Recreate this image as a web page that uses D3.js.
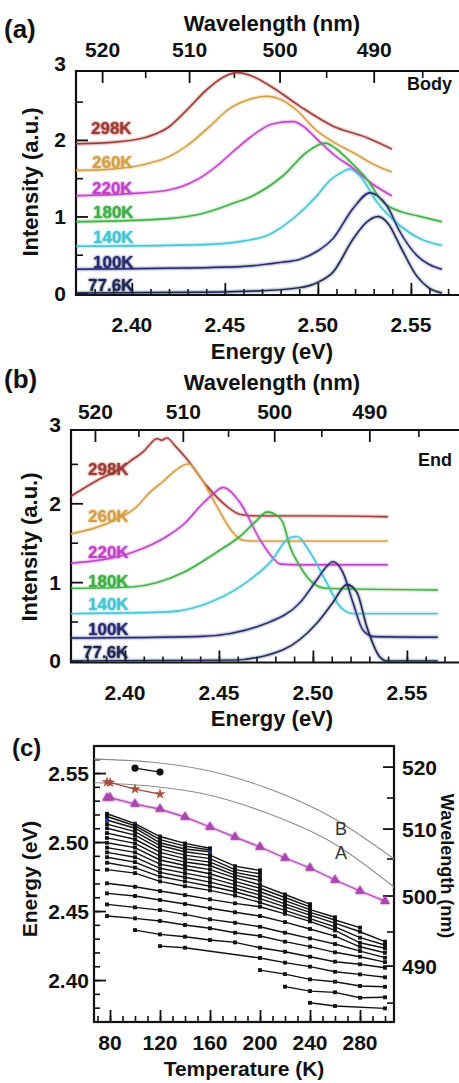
<!DOCTYPE html>
<html><head><meta charset="utf-8">
<script src="https://cdn.jsdelivr.net/npm/d3@7"></script>
<style>
html,body{margin:0;padding:0;background:#fff;}
svg{display:block;font-family:"Liberation Sans",Arial,Helvetica,sans-serif;}
</style></head><body>
<svg id="fig" width="459" height="1083"></svg>
<script>
// ---------------- DATA ----------------
const tempLabels = ["298K","260K","220K","180K","140K","100K","77.6K"];
const tempColors = ["#9e3a34","#d4a047","#c043c6","#3fae45","#45c4d2","#262a6e","#1d2550"];

// (a) Body spectra: [energy eV, intensity a.u.]
const body298 = [[2.3699,1.95],[2.3900,1.97],[2.4070,2.03],[2.4200,2.17],[2.4300,2.40],[2.4400,2.65],[2.4500,2.83],[2.4565,2.88],[2.4640,2.84],[2.4760,2.68],[2.4903,2.44],[2.5081,2.18],[2.5263,2.03],[2.5398,1.88]];
const body260 = [[2.3699,1.60],[2.3900,1.62],[2.4050,1.67],[2.4200,1.78],[2.4300,1.93],[2.4420,2.18],[2.4520,2.40],[2.4620,2.52],[2.4726,2.57],[2.4800,2.53],[2.4880,2.40],[2.4995,2.12],[2.5100,1.95],[2.5200,1.82],[2.5300,1.68],[2.5398,1.58]];
const body220 = [[2.3699,1.27],[2.4000,1.30],[2.4188,1.34],[2.4350,1.48],[2.4457,1.66],[2.4560,1.88],[2.4634,2.03],[2.4758,2.21],[2.4866,2.24],[2.4920,2.18],[2.4995,2.01],[2.5100,1.78],[2.5172,1.66],[2.5296,1.42],[2.5398,1.27]];
const body180 = [[2.3699,0.93],[2.4188,0.97],[2.4366,1.03],[2.4543,1.17],[2.4650,1.27],[2.4812,1.53],[2.4941,1.84],[2.5038,1.96],[2.5100,1.88],[2.5172,1.72],[2.5263,1.49],[2.5350,1.19],[2.5450,1.06],[2.5532,1.01],[2.5667,0.93]];
const body140 = [[2.3699,0.61],[2.4366,0.63],[2.4600,0.68],[2.4726,0.75],[2.4866,0.97],[2.4995,1.27],[2.5064,1.47],[2.5130,1.58],[2.5172,1.62],[2.5230,1.52],[2.5317,1.19],[2.5441,0.88],[2.5548,0.71],[2.5667,0.62]];
const body100 = [[2.3699,0.31],[2.4543,0.34],[2.4800,0.40],[2.4903,0.44],[2.5000,0.55],[2.5081,0.71],[2.5188,1.10],[2.5280,1.31],[2.5320,1.27],[2.5371,1.14],[2.5441,0.80],[2.5532,0.49],[2.5600,0.37],[2.5667,0.31]];
const body776 = [[2.3699,0.00],[2.4400,0.01],[2.4700,0.03],[2.4903,0.07],[2.5000,0.14],[2.5081,0.27],[2.5188,0.70],[2.5260,0.92],[2.5323,1.00],[2.5380,0.90],[2.5441,0.62],[2.5532,0.22],[2.5600,0.06],[2.5667,0.00]];

// (b) End spectra
const end298 = [[2.3713,2.09],[2.3867,2.31],[2.3960,2.42],[2.4043,2.56],[2.4100,2.66],[2.4130,2.74],[2.4170,2.82],[2.4195,2.80],[2.4223,2.83],[2.4270,2.72],[2.4330,2.56],[2.4436,2.22],[2.4543,1.96],[2.4612,1.86],[2.4700,1.84],[2.5000,1.84],[2.5399,1.83]];
const end260 = [[2.3713,1.61],[2.3957,1.80],[2.4060,1.95],[2.4133,2.14],[2.4200,2.27],[2.4255,2.39],[2.4300,2.47],[2.4340,2.50],[2.4399,2.34],[2.4489,1.96],[2.4574,1.63],[2.4628,1.53],[2.4700,1.52],[2.5399,1.52]];
const end220 = [[2.3713,1.24],[2.4043,1.38],[2.4223,1.58],[2.4320,1.75],[2.4399,1.96],[2.4470,2.12],[2.4521,2.20],[2.4612,2.01],[2.4718,1.54],[2.4790,1.30],[2.4824,1.23],[2.4900,1.22],[2.5399,1.22]];
const end180 = [[2.3713,0.92],[2.4043,0.94],[2.4309,1.12],[2.4489,1.38],[2.4612,1.58],[2.4700,1.78],[2.4755,1.89],[2.4800,1.86],[2.4840,1.76],[2.4878,1.45],[2.4931,1.20],[2.5000,0.99],[2.5074,0.92],[2.5665,0.90]];
const end140 = [[2.3713,0.60],[2.4223,0.62],[2.4489,0.78],[2.4665,1.03],[2.4787,1.29],[2.4862,1.54],[2.4915,1.58],[2.4984,1.38],[2.5074,0.99],[2.5144,0.69],[2.5213,0.60],[2.5665,0.60]];
const end100 = [[2.3713,0.29],[2.4399,0.31],[2.4755,0.48],[2.4931,0.74],[2.5021,1.03],[2.5074,1.20],[2.5106,1.26],[2.5160,1.12],[2.5213,0.74],[2.5266,0.39],[2.5319,0.31],[2.5665,0.30]];
const end776 = [[2.3713,0.00],[2.4574,0.01],[2.4840,0.14],[2.5021,0.48],[2.5106,0.74],[2.5181,0.97],[2.5234,0.87],[2.5287,0.43],[2.5356,0.05],[2.5394,0.00],[2.5665,0.00]];

// axis ticks
const intensityTicks = [0,1,2,3];
const intensityMinor = [0.5,1.5,2.5];
const energyTicksAB = [2.40,2.45,2.50,2.55];
const wavelengthTicks = [520,510,500,490];
const wavelengthMinor = [515,505,495,485];
const tempTicks = [80,120,160,200,240,280];
const energyTicksC = [2.40,2.45,2.50,2.55];
const wlTicksC = [520,510,500,490];
const wlMinorC = [515,505,495,485];
// right-axis calibration of panel (c): wavelength label -> energy position
const wlCalibNm = [485,490,495,500,505,510,515,520];
const wlCalibEv = [2.3833,2.4101,2.4348,2.4609,2.4877,2.5094,2.5319,2.5543];

// (c) peak energies vs temperature: [T (K), E (eV)]
const row01 = [[77.6,2.5205],[100,2.5134],[120,2.5040],[140,2.4990],[160,2.4955]];
const row02 = [[77.6,2.5185],[100,2.5118],[120,2.5018],[140,2.4970],[160,2.4942]];
const row03 = [[77.6,2.5160],[100,2.5100],[120,2.4995],[140,2.4950],[160,2.4930]];
const row04 = [[77.6,2.5130],[100,2.5075],[120,2.4975],[140,2.4930],[160,2.4905],[180,2.4825],[200,2.4795]];
const row05 = [[77.6,2.5100],[100,2.5050],[120,2.4950],[140,2.4905],[160,2.4880],[180,2.4800],[200,2.4770]];
const row06 = [[77.6,2.5065],[100,2.5020],[120,2.4925],[140,2.4880],[160,2.4855],[180,2.4780],[200,2.4745]];
const row07 = [[77.6,2.5030],[100,2.4990],[120,2.4898],[140,2.4855],[160,2.4830],[180,2.4760],[200,2.4720]];
const row08 = [[77.6,2.4995],[100,2.4960],[120,2.4870],[140,2.4830],[160,2.4800],[180,2.4740],[200,2.4690],[220,2.4620],[240,2.4550]];
const row09 = [[77.6,2.4960],[100,2.4925],[120,2.4840],[140,2.4805],[160,2.4770],[180,2.4715],[200,2.4665],[220,2.4598],[240,2.4530]];
const row10 = [[77.6,2.4925],[100,2.4890],[120,2.4810],[140,2.4775],[160,2.4740],[180,2.4690],[200,2.4640],[220,2.4575],[240,2.4510],[260,2.4455]];
const row11 = [[77.6,2.4890],[100,2.4855],[120,2.4780],[140,2.4745],[160,2.4710],[180,2.4665],[200,2.4615],[220,2.4552],[240,2.4490],[260,2.4435],[280,2.4380]];
const row12 = [[77.6,2.4850],[100,2.4815],[120,2.4750],[140,2.4715],[160,2.4680],[180,2.4640],[200,2.4590],[220,2.4530],[240,2.4470],[260,2.4412],[280,2.4350],[300,2.4278]];
const row13 = [[77.6,2.4800],[100,2.4775],[120,2.4715],[140,2.4680],[160,2.4650],[180,2.4612],[200,2.4562],[220,2.4505],[240,2.4445],[260,2.4385],[280,2.4307],[300,2.4254]];
const row14 = [[77.6,2.4701],[100,2.4676],[120,2.4645],[140,2.4616],[160,2.4585],[180,2.4556],[200,2.4531],[220,2.4480],[240,2.4425],[260,2.4360],[280,2.4270],[300,2.4230]];
const row15 = [[77.6,2.4628],[100,2.4609],[120,2.4580],[140,2.4551],[160,2.4520],[180,2.4491],[200,2.4464],[220,2.4420],[240,2.4370],[260,2.4318],[280,2.4241],[300,2.4198]];
const row16 = [[77.6,2.4548],[100,2.4527],[120,2.4507],[140,2.4476],[160,2.4440],[180,2.4415],[200,2.4386],[220,2.4343],[240,2.4302],[260,2.4261],[280,2.4210],[300,2.4162]];
const row17 = [[77.6,2.4464],[100,2.4447],[120,2.4428],[140,2.4399],[160,2.4375],[180,2.4343],[200,2.4319],[220,2.4278],[240,2.4242],[260,2.4201],[280,2.4169],[300,2.4130]];
const row18 = [[100,2.4362],[120,2.4331],[140,2.4314],[160,2.4290],[180,2.4273],[200,2.4234],[220,2.4205],[240,2.4169],[260,2.4133],[280,2.4114],[300,2.4089]];
const row19 = [[120,2.4246],[140,2.4234],[200,2.4160],[220,2.4126],[240,2.4097],[260,2.4060],[280,2.4041],[300,2.4020]];
const row20 = [[200,2.4072],[220,2.4043],[240,2.4005],[260,2.3988],[280,2.3957],[300,2.3951]];
const row21 = [[220,2.3952],[240,2.3920],[260,2.3911],[280,2.3872],[300,2.3875]];
const row22 = [[240,2.3835],[260,2.3812],[300,2.3795]];

const triangleT = [77.6,80,100,120,140,160,180,200,220,240,260,280,300];
const triangleE = [2.5320,2.5322,2.5275,2.5239,2.5181,2.5109,2.5036,2.4964,2.4884,2.4812,2.4725,2.4645,2.4572];
const starT = [77.6,80,100,120];
const starE = [2.5435,2.5432,2.5384,2.5348];
const circleT = [100,120];
const circleE = [2.5536,2.5507];
const curveB = [[67.2,2.5601],[112,2.5580],[152,2.5529],[205.6,2.5391],[258.4,2.5174],[307.2,2.4877]];
const curveA = [[67.2,2.5430],[112,2.5406],[152,2.5355],[205.6,2.5210],[258.4,2.4993],[307.2,2.4674]];

// ---------------- DRAWING ----------------
const hc = 1239.84;
const svg = d3.select("#fig");
const defs = svg.append("defs");
const glow = defs.append("filter").attr("id","glow").attr("x","-20%").attr("y","-20%").attr("width","140%").attr("height","140%");
glow.append("feGaussianBlur").attr("stdDeviation",1.3).attr("result","b");
const gm = glow.append("feMerge");
gm.append("feMergeNode").attr("in","b");
gm.append("feMergeNode").attr("in","SourceGraphic");

function txt(g, x, y, s, o) {
  o = o || {};
  const t = g.append("text").attr("x", x).attr("y", y).text(s)
    .attr("font-size", o.size || 21).attr("font-weight", o.weight || "bold")
    .attr("fill", o.fill || "#111").attr("text-anchor", o.anchor || "start");
  if (o.rotate) t.attr("transform", `rotate(${o.rotate},${x},${y})`);
  return t;
}

function spectraPanel(P, series) {
  const g = svg.append("g");
  const x = d3.scaleLinear().domain([P.eMin, P.eMax]).range([P.left, P.right]);
  const y = d3.scaleLinear().domain([P.iMin, P.iMax]).range([P.bottom, P.top]);
  const clipId = "clip" + P.tag;
  defs.append("clipPath").attr("id", clipId).append("rect")
    .attr("x", P.left).attr("y", P.top).attr("width", P.right - P.left).attr("height", P.bottom - P.top);

  const minorE = d3.range(238, 259).map(v => v / 100);
  g.append("g").attr("transform", `translate(0,${P.bottom})`)
    .call(d3.axisBottom(x).tickValues(minorE).tickSize(-6).tickSizeOuter(0).tickFormat(""))
    .call(a => a.select(".domain").remove())
    .selectAll("line").attr("stroke", "#111").attr("stroke-width", 1.6);
  g.append("g").attr("transform", `translate(0,${P.bottom})`)
    .call(d3.axisBottom(x).tickValues(energyTicksAB).tickSize(-12).tickSizeOuter(0).tickFormat(""))
    .call(a => a.select(".domain").remove())
    .selectAll("line").attr("stroke", "#111").attr("stroke-width", 1.8);
  g.append("g").attr("transform", `translate(${P.left},0)`)
    .call(d3.axisLeft(y).tickValues(intensityMinor).tickSize(-7).tickSizeOuter(0).tickFormat(""))
    .call(a => a.select(".domain").remove())
    .selectAll("line").attr("stroke", "#111").attr("stroke-width", 1.6);
  g.append("g").attr("transform", `translate(${P.left},0)`)
    .call(d3.axisLeft(y).tickValues(intensityTicks.filter(v => y(v) >= P.top)).tickSize(-12).tickSizeOuter(0).tickFormat(""))
    .call(a => a.select(".domain").remove())
    .selectAll("line").attr("stroke", "#111").attr("stroke-width", 1.8);
  g.selectAll(".wmaj").data(wavelengthTicks).join("line")
    .attr("x1", d => x(hc / d)).attr("x2", d => x(hc / d))
    .attr("y1", P.top).attr("y2", P.top + 12).attr("stroke", "#111").attr("stroke-width", 1.8);
  g.selectAll(".wmin").data(wavelengthMinor).join("line")
    .attr("x1", d => x(hc / d)).attr("x2", d => x(hc / d))
    .attr("y1", P.top).attr("y2", P.top + 7).attr("stroke", "#111").attr("stroke-width", 1.6);
  g.append("path").attr("d", `M${P.right},${P.top}H${P.left}V${P.bottom}H${P.right}`)
    .attr("fill", "none").attr("stroke", "#111").attr("stroke-width", 2.2);

  const line = d3.line().x(d => x(d[0])).y(d => y(d[1])).curve(d3.curveMonotoneX);
  const cg = g.append("g").attr("clip-path", `url(#${clipId})`).attr("filter", "url(#glow)");
  series.forEach((s, i) => {
    cg.append("path").attr("d", line(s)).attr("fill", "none")
      .attr("stroke", tempColors[i]).attr("stroke-width", 1.4).attr("stroke-linejoin", "round");
  });

  wavelengthTicks.forEach(d => txt(g, x(hc / d), P.topLabelY, String(d), {anchor: "middle"}));
  energyTicksAB.forEach(d => txt(g, x(d), P.bottomLabelY, d3.format(".2f")(d), {anchor: "middle"}));
  intensityTicks.forEach(d => txt(g, P.left - 10, y(d) + 7.5, String(d), {anchor: "end"}));

  txt(g, 272, P.topTitleY, "Wavelength (nm)", {anchor: "middle", size: 22});
  txt(g, 272, P.bottomTitleY, "Energy (eV)", {anchor: "middle", size: 22});
  txt(g, P.yTitleX, P.yTitleY, "Intensity (a.u.)", {anchor: "middle", size: 22, rotate: -90});
  txt(g, 4, P.letterY, P.letter, {size: 26});
  txt(g, P.tagX, P.tagY, P.tagText, {size: 18});

  const lg = g.append("g").attr("filter", "url(#glow)");
  tempLabels.forEach((t, i) => {
    txt(lg, P.labelX[i], P.labelY[i] + 6, t, {size: 17, fill: tempColors[i]});
  });
}

spectraPanel({
  tag: "a", left: 76, right: 476, top: 71, bottom: 295,
  eMin: 2.37, eMax: 2.585, iMin: -0.026, iMax: 2.90,
  topLabelY: 57, bottomLabelY: 332, topTitleY: 31, bottomTitleY: 359,
  yTitleX: 38, yTitleY: 182, letter: "(a)", letterY: 38,
  tagText: "Body", tagX: 407, tagY: 90,
  labelX: [91, 92, 92, 93, 93, 93, 88], labelY: [128, 162, 188, 212, 237, 262, 285]
}, [body298, body260, body220, body180, body140, body100, body776]);

spectraPanel({
  tag: "b", left: 71, right: 471, top: 430, bottom: 662.5,
  eMin: 2.3713, eMax: 2.5841, iMin: -0.02, iMax: 2.93,
  topLabelY: 419, bottomLabelY: 700, topTitleY: 390, bottomTitleY: 726,
  yTitleX: 37, yTitleY: 547, letter: "(b)", letterY: 388,
  tagText: "End", tagX: 418, tagY: 466,
  labelX: [88, 88, 88, 88, 88, 88, 83], labelY: [469, 516, 552, 581, 604, 629, 652]
}, [end298, end260, end220, end180, end140, end100, end776]);

// ---------------- PANEL (c) ----------------
(function () {
  const L = 94, R = 394, T = 746, B = 1022;
  const g = svg.append("g");
  const x = d3.scaleLinear().domain([67.2, 307.2]).range([L, R]);
  const y = d3.scaleLinear().domain([2.3696, 2.5696]).range([B, T]);
  const wlToE = d3.scaleLinear().domain(wlCalibNm).range(wlCalibEv);

  const minorT = d3.range(70, 310, 10);
  g.append("g").attr("transform", `translate(0,${B})`)
    .call(d3.axisBottom(x).tickValues(minorT).tickSize(-6).tickSizeOuter(0).tickFormat(""))
    .call(a => a.select(".domain").remove())
    .selectAll("line").attr("stroke", "#111").attr("stroke-width", 1.6);
  g.append("g").attr("transform", `translate(0,${B})`)
    .call(d3.axisBottom(x).tickValues(tempTicks).tickSize(-12).tickSizeOuter(0).tickFormat(""))
    .call(a => a.select(".domain").remove())
    .selectAll("line").attr("stroke", "#111").attr("stroke-width", 1.8);
  const minorE = d3.range(237, 257).map(v => v / 100);
  g.append("g").attr("transform", `translate(${L},0)`)
    .call(d3.axisLeft(y).tickValues(minorE).tickSize(-6).tickSizeOuter(0).tickFormat(""))
    .call(a => a.select(".domain").remove())
    .selectAll("line").attr("stroke", "#111").attr("stroke-width", 1.6);
  g.append("g").attr("transform", `translate(${L},0)`)
    .call(d3.axisLeft(y).tickValues(energyTicksC).tickSize(-12).tickSizeOuter(0).tickFormat(""))
    .call(a => a.select(".domain").remove())
    .selectAll("line").attr("stroke", "#111").attr("stroke-width", 1.8);
  g.selectAll(".rmaj").data(wlTicksC).join("line")
    .attr("x1", R).attr("x2", R - 11).attr("y1", d => y(wlToE(d))).attr("y2", d => y(wlToE(d)))
    .attr("stroke", "#111").attr("stroke-width", 1.8);
  g.selectAll(".rmin").data(wlMinorC).join("line")
    .attr("x1", R).attr("x2", R - 7).attr("y1", d => y(wlToE(d))).attr("y2", d => y(wlToE(d)))
    .attr("stroke", "#111").attr("stroke-width", 1.6);
  g.append("rect").attr("x", L).attr("y", T).attr("width", R - L).attr("height", B - T)
    .attr("fill", "none").attr("stroke", "#111").attr("stroke-width", 2.2);

  const clip = defs.append("clipPath").attr("id", "clipc");
  clip.append("rect").attr("x", L).attr("y", T).attr("width", R - L).attr("height", B - T);
  const pg = g.append("g").attr("clip-path", "url(#clipc)");

  const gl = d3.line().x(d => x(d[0])).y(d => y(d[1])).curve(d3.curveMonotoneX);
  [curveB, curveA].forEach(c => pg.append("path").attr("d", gl(c)).attr("fill", "none")
    .attr("stroke", "#8c8c8c").attr("stroke-width", 1.1));

  const rows = [row01,row02,row03,row04,row05,row06,row07,row08,row09,row10,row11,row12,row13,row14,row15,row16,row17,row18,row19,row20,row21,row22];
  const ll = d3.line().x(d => x(d[0])).y(d => y(d[1]));
  rows.forEach(r => {
    pg.append("path").attr("d", ll(r)).attr("fill", "none").attr("stroke", "#111").attr("stroke-width", 1.4);
  });
  const sq = d3.symbol().type(d3.symbolSquare).size(15);
  rows.forEach((r, ri) => {
    pg.selectAll(null).data(r).join("path")
      .attr("transform", d => `translate(${x(d[0])},${y(d[1])})`)
      .attr("d", sq).attr("fill", (d, i) => ((ri === 2 && i === 0) || (ri === 0 && i === 1) || (ri === 2 && i === 4)) ? "#1f2a78" : "#111");
  });

  const triPts = triangleT.map((t, i) => [t, triangleE[i]]);
  const purple = pg.append("g").attr("filter", "url(#glow)");
  purple.append("path").attr("d", ll(triPts)).attr("fill", "none").attr("stroke", "#b54db8").attr("stroke-width", 1.2);
  const tri = d3.symbol().type(d3.symbolTriangle).size(40);
  purple.selectAll(null).data(triPts).join("path")
    .attr("transform", d => `translate(${x(d[0])},${y(d[1])})`).attr("d", tri).attr("fill", "#a945ad");

  const starPts = starT.map((t, i) => [t, starE[i]]);
  pg.append("path").attr("d", ll(starPts)).attr("fill", "none").attr("stroke", "#9a4a3c").attr("stroke-width", 1.3);
  const st = d3.symbol().type(d3.symbolStar).size(38);
  pg.selectAll(null).data(starPts).join("path")
    .attr("transform", d => `translate(${x(d[0])},${y(d[1])})`).attr("d", st).attr("fill", "#a8503e");

  const cirPts = circleT.map((t, i) => [t, circleE[i]]);
  pg.append("path").attr("d", ll(cirPts)).attr("fill", "none").attr("stroke", "#111").attr("stroke-width", 1.3);
  pg.selectAll(null).data(cirPts).join("circle")
    .attr("cx", d => x(d[0])).attr("cy", d => y(d[1])).attr("r", 3.6).attr("fill", "#111");

  tempTicks.forEach(d => txt(g, x(d), 1050, String(d), {anchor: "middle"}));
  energyTicksC.forEach(d => txt(g, L - 5, y(d) + 7.5, d3.format(".2f")(d), {anchor: "end"}));
  wlTicksC.forEach(d => txt(g, R + 8, y(wlToE(d)) + 7.5, String(d)));
  txt(g, 244, 1076, "Temperature (K)", {anchor: "middle", size: 21});
  txt(g, 37, 879, "Energy (eV)", {anchor: "middle", size: 21, rotate: -90});
  txt(g, 441, 866, "Wavelength (nm)", {anchor: "middle", size: 18, rotate: 90});
  txt(g, 12, 756, "(c)", {size: 24});
  txt(g, 335, 835, "B", {size: 18, weight: "normal", fill: "#333"});
  txt(g, 335, 859, "A", {size: 18, weight: "normal", fill: "#333"});
})();
</script></body></html>
